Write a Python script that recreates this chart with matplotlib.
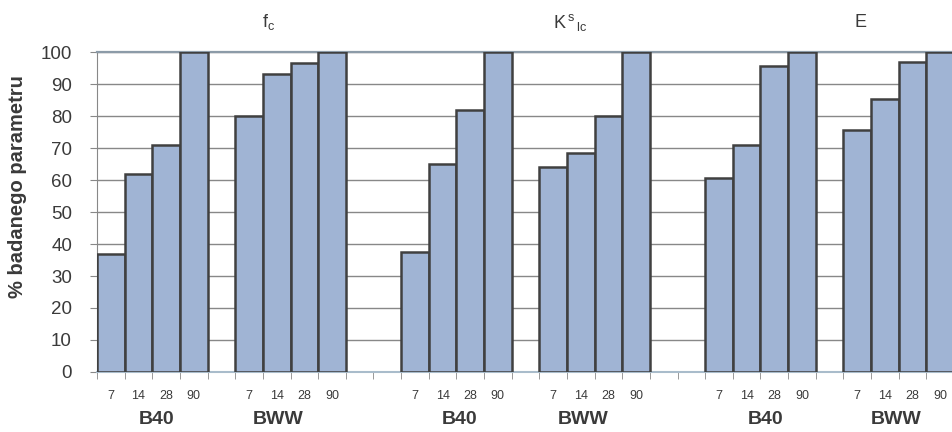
import matplotlib
matplotlib.use("Agg")
import matplotlib.pyplot as plt
import numpy as np

plt.rcParams["font.family"] = ["Liberation Sans", "DejaVu Sans"]
plt.rcParams["mathtext.fontset"] = "custom"
plt.rcParams["mathtext.rm"] = "Liberation Sans"

# data
ages = ["7", "14", "28", "90"]
params = ["f$_\\mathrm{c}$", "K$^{\\,\\mathrm{s}}{}_{\\mathrm{\\,lc}}$", "E"]
concretes = ["B40", "BWW"]

fc_b40 = [37, 62, 71, 100]
fc_bww = [80, 93, 96.5, 100]
kic_b40 = [37.5, 65, 82, 100]
kic_bww = [64, 68.5, 80, 100]
e_b40 = [60.5, 71, 95.5, 100]
e_bww = [75.7, 85.3, 97, 100]

series = [fc_b40, fc_bww, kic_b40, kic_bww, e_b40, e_bww]
# first category slot of every group of four bars
group_start = [0, 5, 11, 16, 22, 27]
n_slots = 31

bar_color = "#a0b4d4"
edge_color = "#404040"
text_color = "#3a3a3a"

fig = plt.figure(figsize=(9.53, 4.32), dpi=100)
ax = fig.add_axes([97 / 953, 1 - 372 / 432, 857 / 953, 320 / 432])

for start, vals in zip(group_start, series):
    x = start + np.arange(len(vals)) + 0.5
    ax.bar(x, vals, width=1.0, color=bar_color, edgecolor=edge_color,
           linewidth=1.8, zorder=3)

ax.set_xlim(0, n_slots)
ax.set_ylim(0, 100)
ax.set_yticks(np.arange(0, 101, 10))
ax.yaxis.grid(True, color="#888888", linewidth=1.0, zorder=0)
ax.set_axisbelow(True)

# minor ticks on slot boundaries, age labels under each bar
ax.set_xticks(np.arange(0, n_slots + 1), minor=True)
tick_pos = []
tick_lab = []
for start in group_start:
    for i, a in enumerate(ages):
        tick_pos.append(start + i + 0.5)
        tick_lab.append(a)
ax.set_xticks(tick_pos)
ax.set_xticklabels(tick_lab, fontsize=9, color=text_color)
ax.tick_params(axis="x", which="major", length=0, pad=13)
ax.tick_params(axis="x", which="minor", length=5, color="#888888")
ax.tick_params(axis="y", length=5, color="#888888", labelsize=13.5,
               labelcolor=text_color, pad=13)

ax.spines["right"].set_visible(False)
ax.spines["top"].set_color("#8c9ba8")
ax.spines["top"].set_linewidth(1.6)
ax.spines["left"].set_color("#888888")
ax.spines["bottom"].set_color("#a9bccb")
ax.spines["bottom"].set_linewidth(1.5)

# y label sits a bit above the axes centre in the reference
fig.text(18 / 953, 1 - 187 / 432, "% badanego parametru", rotation=90,
         ha="center", va="center", fontsize=14.5, fontweight="bold",
         color=text_color)

# parameter titles above the plot
title_x = [6.2, 17.1, 27.6]
for tx, p in zip(title_x, params):
    ax.text(tx, 1 + 30 / 320, p, transform=ax.get_xaxis_transform(),
            ha="center", va="center", fontsize=13, color=text_color)

# concrete labels below the ages
label_x = [2.15, 6.55, 13.1, 17.6, 24.2, 28.9]
for i, lx in enumerate(label_x):
    ax.text(lx, -48 / 320, concretes[i % 2], transform=ax.get_xaxis_transform(),
            ha="center", va="center", fontsize=14, fontweight="bold",
            color=text_color)

fig.savefig("out.png", dpi=100)
